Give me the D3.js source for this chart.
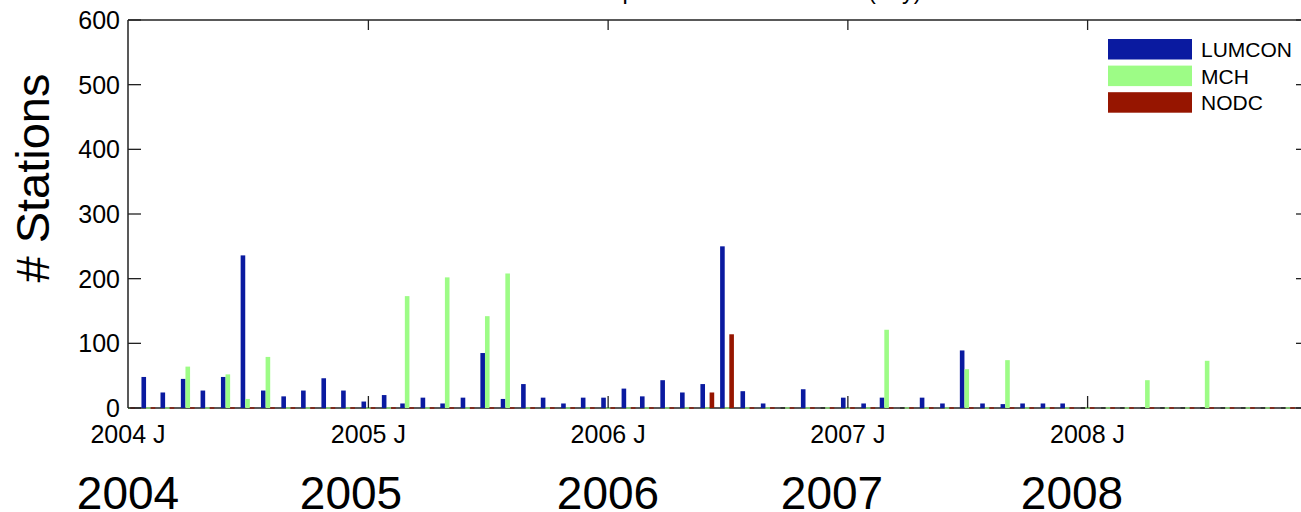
<!DOCTYPE html>
<html><head><meta charset="utf-8">
<script src="https://cdn.jsdelivr.net/npm/d3@7"></script>
<style>
body{margin:0;background:#fff}
svg{display:block}
text{font-family:"Liberation Sans",Arial,Helvetica,sans-serif;fill:#000}
</style>
</head><body>
<svg id="chart" width="1301" height="512"></svg>
<script>
// ---------- data ----------
const months = [
 "2004-01","2004-02","2004-03","2004-04","2004-05","2004-06","2004-07","2004-08","2004-09","2004-10","2004-11","2004-12",
 "2005-01","2005-02","2005-03","2005-04","2005-05","2005-06","2005-07","2005-08","2005-09","2005-10","2005-11","2005-12",
 "2006-01","2006-02","2006-03","2006-04","2006-05","2006-06","2006-07","2006-08","2006-09","2006-10","2006-11","2006-12",
 "2007-01","2007-02","2007-03","2007-04","2007-05","2007-06","2007-07","2007-08","2007-09","2007-10","2007-11","2007-12",
 "2008-01","2008-02","2008-03","2008-04","2008-05","2008-06","2008-07","2008-08","2008-09","2008-10","2008-11","2008-12"
];
const lumcon = [
 0,48,24,45,27,48,236,27,18,27,46,27,
 10,20,7,16,7,16,85,14,37,16,7,16,
 16,30,18,43,24,37,250,26,7,0,29,0,
 16,7,16,0,16,7,89,7,6,7,7,7,
 0,0,0,0,0,0,0,0,0,0,0,0
];
const mch = [
 0,0,0,64,0,52,14,79,0,0,0,0,
 0,0,173,0,202,0,142,208,0,0,0,0,
 0,0,0,0,0,0,0,0,0,0,0,0,
 0,0,121,0,0,0,60,0,74,0,0,0,
 0,0,0,43,0,0,73,0,0,0,0,0
];
const nodc = [
 0,0,0,0,0,0,0,0,0,0,0,0,
 0,0,0,0,0,0,0,0,0,0,0,0,
 0,0,0,0,0,24,114,0,0,0,0,0,
 0,0,0,0,0,0,0,0,0,0,0,0,
 0,0,0,0,0,0,0,0,0,0,0,0
];
const seriesNames = ["LUMCON","MCH","NODC"];
const seriesColors = ["#0a1aa0","#9dfc86","#961500"];
const yTicks = [0,100,200,300,400,500,600];
const yearTicks = ["2004","2005","2006","2007","2008"];
const yearTickLabels = ["2004 J","2005 J","2006 J","2007 J","2008 J"];
const yearBigLabels = ["2004","2005","2006","2007","2008"];
const titleText = "Stations per month from all labs (day)";
const yLabel = "# Stations";

// ---------- layout ----------
const svg = d3.select("#chart");
const pL = 128, pR = 1309, pT = 20, pB = 408;
const parseM = d3.timeParse("%Y-%m");
const parseY = d3.timeParse("%Y");
const x = d3.scaleTime()
  .domain([parseY("2004"), parseY("2009")])
  .range([pL, pL + 1200]);
const y = d3.scaleLinear().domain([0, 600]).range([pB, pT]);
const series = [lumcon, mch, nodc];
const barW = 4.6;

svg.append("defs").append("clipPath").attr("id","plotclip")
  .append("rect").attr("x", pL).attr("y", pT - 2)
  .attr("width", pR - pL).attr("height", pB - pT + 4);

// title (mostly cut off at top)
svg.append("text").attr("x", 531).attr("y", -1)
  .attr("font-size", 23.5).text(titleText);

// baseline
const g = svg.append("g").attr("clip-path","url(#plotclip)");
g.append("line").attr("x1", pL).attr("x2", pR)
  .attr("y1", y(0)).attr("y2", y(0))
  .attr("stroke", "#222").attr("stroke-width", 1.6);

// bars
series.forEach((vals, si) => {
  const data = months.map((m, i) => ({d: parseM(m), v: vals[i]}));
  g.selectAll(null).data(data).enter().append("rect")
    .attr("x", d => x(d.d) + (si - 1) * barW - barW / 2)
    .attr("width", barW)
    .attr("y", d => d.v > 0 ? y(d.v) : y(0) - 0.8)
    .attr("height", d => d.v > 0 ? y(0) - y(d.v) : 1.6)
    .attr("fill", d => d.v > 0 ? seriesColors[si] : (si === 0 ? "#222" : seriesColors[si]))
    .attr("opacity", d => d.v > 0 ? 1 : 0.8);
});

// axes box
const axisG = svg.append("g");
axisG.append("line").attr("x1", pL).attr("x2", pL).attr("y1", pT).attr("y2", pB)
  .attr("stroke", "#222").attr("stroke-width", 1.5);
axisG.append("line").attr("x1", pL).attr("x2", pR).attr("y1", pT).attr("y2", pT)
  .attr("stroke", "#222").attr("stroke-width", 1.5);
axisG.append("line").attr("x1", pR).attr("x2", pR).attr("y1", pT).attr("y2", pB)
  .attr("stroke", "#222").attr("stroke-width", 1.5);

// y ticks
yTicks.forEach(t => {
  axisG.append("line").attr("x1", pL).attr("x2", pL + 13)
    .attr("y1", y(t)).attr("y2", y(t)).attr("stroke", "#222").attr("stroke-width", 1.3);
  axisG.append("line").attr("x1", pR).attr("x2", pR - 13)
    .attr("y1", y(t)).attr("y2", y(t)).attr("stroke", "#222").attr("stroke-width", 1.3);
  axisG.append("text").attr("x", 120).attr("y", y(t)).attr("dy", "0.36em")
    .attr("text-anchor", "end").attr("font-size", 25).text(t);
});

// x ticks at year boundaries
yearTicks.forEach((yr, i) => {
  const xx = x(parseY(yr));
  if (i > 0) {
    axisG.append("line").attr("x1", xx).attr("x2", xx).attr("y1", pT).attr("y2", pT + 10)
      .attr("stroke", "#222").attr("stroke-width", 1.3);
    axisG.append("line").attr("x1", xx).attr("x2", xx).attr("y1", pB).attr("y2", pB - 12)
      .attr("stroke", "#222").attr("stroke-width", 1.3);
  }
  axisG.append("text").attr("x", xx).attr("y", 443)
    .attr("text-anchor", "middle").attr("font-size", 25).text(yearTickLabels[i]);
});

// big year labels
const bigX = [128, 351, 608, 832, 1072];
yearBigLabels.forEach((lab, i) => {
  svg.append("text").attr("x", bigX[i]).attr("y", 509)
    .attr("text-anchor", "middle").attr("font-size", 46).text(lab);
});

// y label
svg.append("text").attr("transform", "translate(49,178) rotate(-90)")
  .attr("text-anchor", "middle").attr("font-size", 47).text(yLabel);

// legend
const lg = svg.append("g");
seriesNames.forEach((n, i) => {
  const yy = 39 + i * 26.6;
  lg.append("rect").attr("x", 1108).attr("y", yy).attr("width", 84).attr("height", 20.5)
    .attr("fill", seriesColors[i]);
  lg.append("text").attr("x", 1201).attr("y", yy + 10.5).attr("dy", "0.36em")
    .attr("font-size", 21).text(n);
});
</script>
</body></html>
